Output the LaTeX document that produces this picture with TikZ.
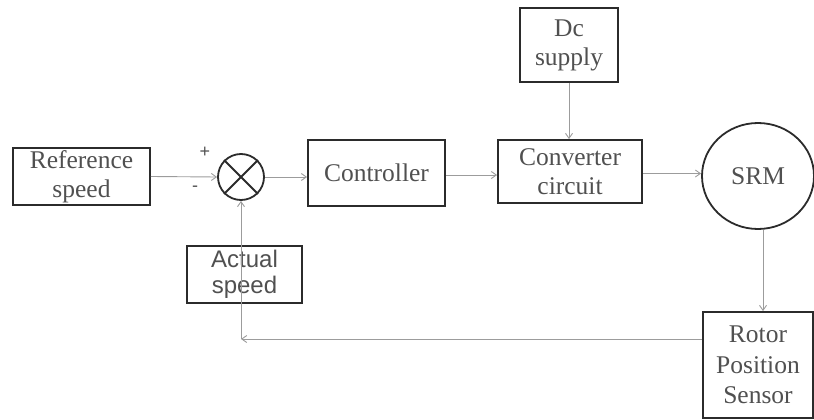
\documentclass[tikz,border=0pt]{standalone}
\usepackage{fontspec}
\setmainfont{Liberation Serif}
\newfontfamily\arialfont{Liberation Sans}
\usepackage{xcolor}
\usepackage{tikz}
\usetikzlibrary{positioning, arrows.meta, calc, shapes.geometric}
\definecolor{boxLine}{HTML}{2B2B2B}
\definecolor{wireGray}{HTML}{9C9C9C}
\definecolor{labelGray}{HTML}{505050}

\tikzset{
  block/.style={draw=boxLine, line width=1.8pt, text=labelGray, align=center,
    inner sep=0pt, font=\fontsize{25.5}{29}\selectfont},
  wire/.style={draw=wireGray, line width=0.9pt},
  arr/.style={wire, -{Straight Barb[length=5pt, width=7pt]}}
}

\begin{document}
\begin{tikzpicture}[x=1pt, y=-1pt]
    \useasboundingbox (0,0) rectangle (814,420);
    % Forward path blocks
    \node[block, minimum width=137pt, minimum height=57pt] (ref) at (81.5,176.5) {Reference\\speed};
    \node[draw=boxLine, line width=1.8pt, circle, minimum size=46pt] (sum) at (241,177) {};
    \draw[boxLine, line width=1.8pt] (sum.north west) -- (sum.south east)
      (sum.north east) -- (sum.south west);
    \node[block, minimum width=137pt, minimum height=66pt] (ctrl) at (376.5,173) {Controller};
    \node[block, minimum width=144pt, minimum height=63pt] (conv) at (570,171.5) {Converter\\circuit};
    \node[block, minimum width=98pt, minimum height=74pt] (dc) at (569,45) {Dc\\supply};
    \node[block, ellipse, minimum width=112pt, minimum height=106pt] (srm) at (758,176) {SRM};
    % Feedback path blocks
    \node[block, minimum width=110pt, minimum height=106pt,
      font=\fontsize{25.5}{30.5}\selectfont] (rps) at (758,365) {Rotor\\Position\\Sensor};
    \node[block, line width=1.5pt, minimum width=115pt, minimum height=57pt,
      font=\arialfont\fontsize{24}{26}\selectfont] (act) at (244.5,274.5) {Actual\\speed};
    % Signs at the junction
    \node[font=\arialfont\fontsize{18}{18}\selectfont, text=labelGray] (plus) at (205,152) {+};
    \node[font=\arialfont\fontsize{18}{18}\selectfont, text=labelGray] (minus) at (195,189) {-};
    % Connectors
    \coordinate (fb) at (241,339);
    \coordinate (cv) at ($(conv.east)+(0,2)$);
    \coordinate (sm) at ($(srm.south)+(5,0)$);
    \draw[arr] (ref.east) -- (sum.west);
    \draw[arr] (sum.east) -- (sum.east -| ctrl.west);
    \draw[arr] ($(ctrl.east)+(0,2)$) -- ($(conv.west)+(0,3.5)$);
    \draw[arr] (cv) -- (cv -| srm.west);
    \draw[arr] (dc.south) -- (dc.south |- conv.north);
    \draw[arr] (sm) -- (sm |- rps.north);
    \draw[arr] (fb -| rps.west) -- (fb);
    \draw[arr] (fb) -- (sum.south);
\end{tikzpicture}
\end{document}
